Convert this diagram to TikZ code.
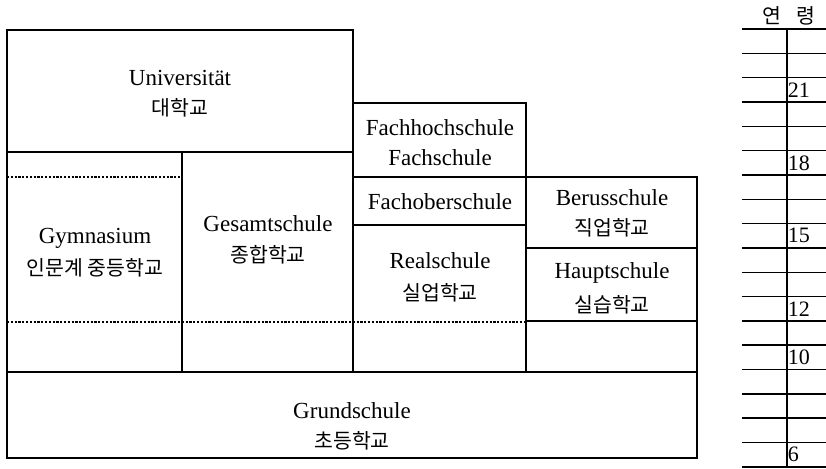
\documentclass[tikz,border=0pt]{standalone}
\usepackage{fontspec}
\setmainfont{Liberation Serif}
\newfontfamily\kr{Noto Sans CJK KR}
\begin{document}
\begin{tikzpicture}[x=1pt,y=-1pt, line width=1.6pt,
  de/.style={font=\fontsize{23}{23}\selectfont, inner sep=0pt},
  ko/.style={font=\kr\fontsize{20.5}{20.5}\selectfont, inner sep=0pt},
  num/.style={font=\fontsize{22}{22}\selectfont, inner sep=0pt, anchor=west},
  dotline/.style={line width=1.3pt, dash pattern=on 2.2pt off 1.6pt}]
\useasboundingbox (0,0) rectangle (826,468);
% boxes
\draw (7,30) rectangle (353,152);
\draw (7,152) rectangle (182,372);
\draw (182,152) rectangle (353,372);
\draw (353,103) rectangle (526,177);
\draw (353,177) rectangle (526,225);
\draw (353,225) rectangle (526,372);
\draw (526,177) rectangle (697,248);
\draw (526,248) rectangle (697,321);
\draw (526,321) rectangle (697,372);
\draw (7,372) rectangle (697,458);
\draw[dotline] (7,177) -- (182,177);
\draw[dotline] (7,322) -- (526,322);
% texts
\node[de] (uni) at (180,78) {Universität};
\node[ko] (unik) at (180,108) {대학교};
\node[de] (gym) at (95,238) {Gymnasium};
\node[ko] (gymk) at (95,268) {인문계 중등학교};
\node[de] (ges) at (268,224) {Gesamtschule};
\node[ko] (gesk) at (268,255) {종합학교};
\node[de] (fhs) at (440,128) {Fachhochschule};
\node[de] (fs) at (440,158) {Fachschule};
\node[de] (fos) at (440,202) {Fachoberschule};
\node[de] (ber) at (612,198) {Berusschule};
\node[ko] (berk) at (612,228) {직업학교};
\node[de] (real) at (440,261) {Realschule};
\node[ko] (realk) at (440,293) {실업학교};
\node[de] (haupt) at (612,273) {Hauptschule};
\node[ko] (hauptk) at (612,305) {실습학교};
\node[de] (grund) at (352,411) {Grundschule};
\node[ko] (grundk) at (352,441) {초등학교};
% age scale
\draw (787,29) -- (787,467);
\foreach \k in {0,...,18} \draw (742,{29+24.33*\k}) -- (826,{29+24.33*\k});
\node[ko] (age) at (789,16) {연\hspace{0.7em}령};
\node[num] (a21) at (787,{29+24.33*2.5}) {21};
\node[num] (a18) at (787,{29+24.33*5.5}) {18};
\node[num] (a15) at (787,{29+24.33*8.5}) {15};
\node[num] (a12) at (787,{29+24.33*11.5}) {12};
\node[num] (a10) at (787,{29+24.33*13.5}) {10};
\node[num] (a6) at (787,{29+24.33*17.5}) {6};
\end{tikzpicture}
\end{document}
